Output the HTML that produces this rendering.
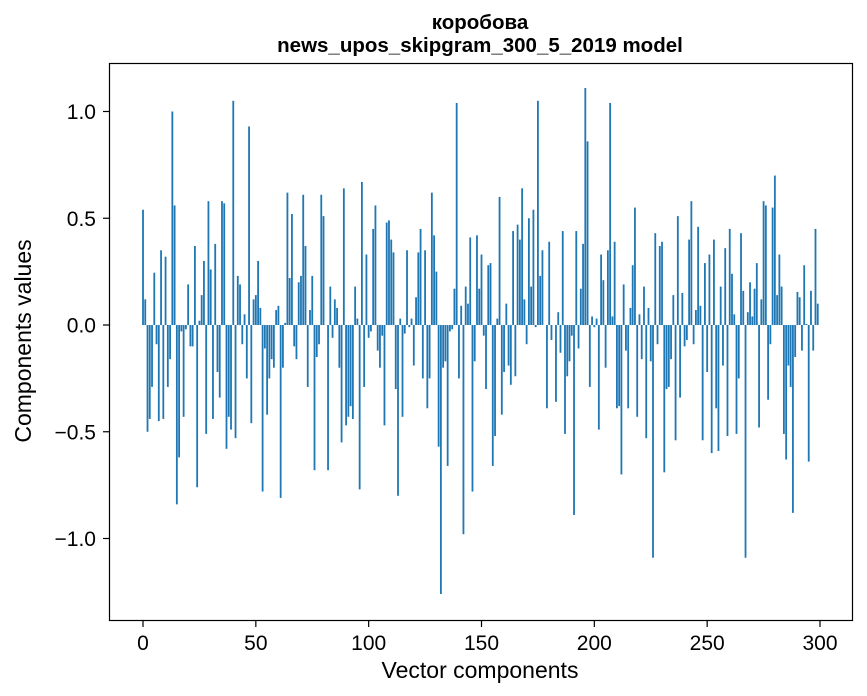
<!DOCTYPE html>
<html><head><meta charset="utf-8"><style>
body{margin:0;background:#fff;}
svg{display:block;font-family:"Liberation Sans","DejaVu Sans",sans-serif;}
</style></head><body>
<svg id="chart" width="867" height="696" viewBox="0 0 867 696" xmlns="http://www.w3.org/2000/svg">
<rect width="867" height="696" fill="#fff"/>
<text x="480" y="29" text-anchor="middle" font-size="20.5" font-weight="bold">коробова</text>
<text x="480" y="52" text-anchor="middle" font-size="20.5" font-weight="bold">news_upos_skipgram_300_5_2019 model</text>
<g id="bars"></g>
<rect x="109.5" y="63.5" width="743" height="557" fill="none" stroke="#000" stroke-width="1.2"/>
<g id="xt"></g>
<g id="yt"></g>
<text x="480" y="678" text-anchor="middle" font-size="23">Vector components</text>
<text x="31" y="341" text-anchor="middle" font-size="23" transform="rotate(-90 31 341)">Components values</text>
</svg>
<script>
const values = [
0.54,0.12,-0.50,-0.44,-0.29,0.245,-0.09,-0.45,0.35,-0.44,
0.32,-0.29,-0.16,1.0,0.56,-0.84,-0.62,-0.03,-0.43,-0.02,
0.19,-0.10,-0.10,0.37,-0.76,0.02,0.14,0.30,-0.51,0.58,
0.26,-0.44,0.38,-0.22,-0.34,0.58,0.57,-0.58,-0.43,-0.49,
1.05,-0.53,0.23,0.19,-0.09,0.05,-0.25,0.93,-0.46,0.12,
0.14,0.30,0.08,-0.78,-0.11,-0.42,-0.25,-0.16,-0.20,0.07,
0.09,-0.81,-0.20,0.01,0.62,0.22,0.52,-0.10,-0.16,0.20,
0.23,0.61,0.37,-0.29,0.07,0.23,-0.68,-0.15,-0.09,0.61,
0.51,0,-0.68,0.18,-0.06,0.12,0.08,-0.20,-0.55,0.64,
-0.47,-0.43,-0.38,-0.44,0.18,0.03,-0.77,0.67,-0.29,0.33,
-0.06,-0.03,0.45,0.56,-0.12,-0.20,-0.05,-0.47,0.48,0.49,
0.40,0.34,-0.30,-0.80,0.03,-0.43,-0.04,0.35,-0.01,0.03,
-0.19,0.13,0.34,0.45,-0.25,0.35,-0.39,-0.25,0.62,0.42,
0.25,-0.57,-1.26,-0.20,-0.17,-0.66,-0.03,-0.02,0.17,1.04,
-0.25,0.09,-0.98,0.18,0.10,0.41,-0.78,-0.17,0.42,0.17,
0.33,-0.05,-0.30,0.28,0.29,-0.66,-0.52,0.03,0.60,-0.42,
-0.22,0.10,-0.19,-0.28,0.44,-0.24,0.47,0.40,0.64,0.12,
-0.09,0.50,0.18,0.54,-0.01,1.05,0.23,0.35,0,-0.39,
0.39,-0.07,0,-0.36,0.06,-0.13,0.44,-0.51,-0.24,-0.17,
-0.05,-0.89,0.44,-0.11,0.17,0.38,1.11,0.86,-0.29,0.04,
-0.01,0.03,-0.49,0.33,0.21,-0.20,0.35,1.04,0.04,0.39,
-0.39,-0.38,-0.70,0.19,-0.12,-0.39,0.08,0.28,0.55,-0.43,
0.05,-0.16,0.18,-0.53,0.08,-0.17,-1.09,0.43,-0.09,0.37,
0.39,-0.69,-0.30,-0.29,-0.16,0.14,-0.54,0.51,-0.34,0.15,
-0.10,-0.07,0.40,0.58,-0.09,0.07,0.46,0.09,-0.54,0.29,
-0.22,0.33,-0.60,0.40,-0.39,-0.59,0.18,-0.19,0.36,-0.52,
0.45,0.24,0.05,-0.51,-0.25,0.43,0.16,-1.09,0.06,0.20,
0.04,0.17,0.29,-0.48,0.12,0.58,0.56,-0.35,-0.09,0.55,
0.70,0.14,0.33,0.18,-0.51,-0.63,-0.19,-0.29,-0.88,-0.15,
0.155,0.13,-0.12,0.28,0.005,-0.64,0.16,-0.12,0.45,0.10
];
const xTicks = [0,50,100,150,200,250,300];
const yTicks = [1.0,0.5,0.0,-0.5,-1.0];
const yTickLabels = ["1.0","0.5","0.0","\u22120.5","\u22121.0"];

const NS="http://www.w3.org/2000/svg";
function xs(v){return 143 + v*(677/300);}
function ys(v){return 325 - v*213.5;}
const barsG=document.getElementById('bars');
values.forEach((v,i)=>{
  const r=document.createElementNS(NS,'rect');
  const w=0.8*(677/300);
  r.setAttribute('x',xs(i)-w/2);
  r.setAttribute('width',w);
  r.setAttribute('y',Math.min(ys(v),ys(0)));
  r.setAttribute('height',Math.abs(ys(v)-ys(0)));
  r.setAttribute('fill','#1f77b4');
  
  
  barsG.appendChild(r);
});
const xt=document.getElementById('xt');
xTicks.forEach(t=>{
  const l=document.createElementNS(NS,'line');
  l.setAttribute('x1',xs(t));l.setAttribute('x2',xs(t));
  l.setAttribute('y1',621);l.setAttribute('y2',627);
  l.setAttribute('stroke','#000');l.setAttribute('stroke-width','1.2');
  
  
  xt.appendChild(l);
  const tx=document.createElementNS(NS,'text');
  tx.setAttribute('x',xs(t));tx.setAttribute('y',650);
  tx.setAttribute('text-anchor','middle');tx.setAttribute('font-size','21');
  tx.textContent=String(t);
  
  
  xt.appendChild(tx);
});
const yt=document.getElementById('yt');
yTicks.forEach((t,k)=>{
  const l=document.createElementNS(NS,'line');
  l.setAttribute('x1',103);l.setAttribute('x2',109);
  l.setAttribute('y1',ys(t));l.setAttribute('y2',ys(t));
  l.setAttribute('stroke','#000');l.setAttribute('stroke-width','1.2');
  
  
  yt.appendChild(l);
  const tx=document.createElementNS(NS,'text');
  tx.setAttribute('x',96);tx.setAttribute('y',ys(t)+7.5);
  tx.setAttribute('text-anchor','end');tx.setAttribute('font-size','21');
  tx.textContent=yTickLabels[k];
  
  
  yt.appendChild(tx);
});
</script>
</body></html>
